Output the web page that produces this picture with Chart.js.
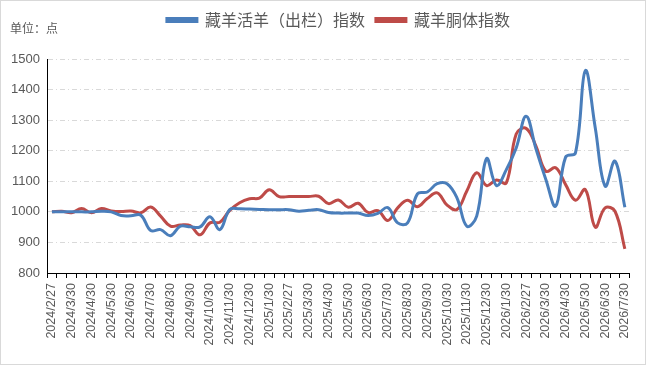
<!DOCTYPE html>
<html>
<head>
<meta charset="utf-8">
<script src="https://cdn.jsdelivr.net/npm/chart.js@4"></script>
<style>
    body { margin: 0; background: #fff; }
    #wrap { position: absolute; left: 0; top: 0; width: 644px; height: 363px; border: 1px solid #d9d9d9; }
</style>
</head>
<body>
<div id="wrap"><canvas id="indexChart" width="644" height="363"></canvas></div>
<script>
// 軸ラベル（1か月ごと）
const tickLabels = [
    '2024/2/27', '2024/3/30', '2024/4/30', '2024/5/30', '2024/6/30', '2024/7/30',
    '2024/8/30', '2024/9/30', '2024/10/30', '2024/11/30', '2024/12/30',
    '2025/1/30', '2025/2/27', '2025/3/30', '2025/4/30', '2025/5/30', '2025/6/30',
    '2025/7/30', '2025/8/30', '2025/9/30', '2025/10/30', '2025/11/30', '2025/12/30',
    '2026/1/30', '2026/2/27', '2026/3/30', '2026/4/30', '2026/5/30', '2026/6/30', '2026/7/30'
];

// 藏羊活羊（出栏）指数（半月ごと）
const liveSheep = [
    1000, 1000, 1000, 1000, 1000, 1002, 1000, 988, 987, 989,
    939, 942, 922, 953, 951, 951, 984, 942, 1008, 1010,
    1009, 1008, 1007, 1007, 1007, 1002, 1005, 1007, 998, 996,
    996, 996, 988, 995, 1014, 964, 964, 1059, 1065, 1092,
    1092, 1046, 953, 986, 1174, 1086, 1138, 1209, 1313, 1206,
    1106, 1019, 1179, 1193, 1462, 1275, 1084, 1166, 1015
];

// 藏羊胴体指数
const carcass = [
    1000, 1002, 997, 1011, 997, 1011, 1003, 1001, 1003, 997,
    1016, 986, 953, 957, 955, 925, 964, 966, 1005, 1030,
    1043, 1045, 1072, 1050, 1050, 1050, 1050, 1051, 1027, 1039,
    1015, 1028, 998, 1004, 972, 1013, 1038, 1017, 1044, 1062,
    1022, 1008, 1068, 1128, 1086, 1104, 1095, 1255, 1273, 1215,
    1133, 1144, 1089, 1038, 1073, 950, 1013, 1002, 879
];

const liveLabel = '藏羊活羊（出栏）指数';
const carcassLabel = '藏羊胴体指数';
const unitText = '单位：点';

const blueColor = '#4a7ebb';
const redColor = '#be4b48';
const textColor = '#595959';

// ラベルは2点ごと、間の点は空ラベル
const categories = [];
tickLabels.forEach((label, i) => {
    categories.push(label);
    if (i < tickLabels.length - 1) categories.push('');
});

// 単位の表示
const unitPlugin = {
    id: 'unitText',
    afterDraw(chart) {
        const ctx = chart.ctx;
        ctx.save();
        ctx.font = '12px "Noto Sans CJK SC"';
        ctx.fillStyle = textColor;
        ctx.textBaseline = 'middle';
        ctx.fillText(unitText, 9, 27);
        ctx.restore();
    }
};

// 凡例の下に余白を取る
const legendGap = {
    id: 'legendGap',
    beforeInit(chart) {
        const fit = chart.legend.fit;
        chart.legend.fit = function () {
            fit.bind(chart.legend)();
            this.height = 58;
        };
    }
};

new Chart(document.getElementById('indexChart').getContext('2d'), {
    type: 'line',
    data: {
        labels: categories,
        datasets: [{
            label: liveLabel,
            data: liveSheep,
            borderColor: blueColor,
            backgroundColor: blueColor,
            borderWidth: 3,
            pointRadius: 0,
            tension: 0.4,
            fill: false,
        }, {
            label: carcassLabel,
            data: carcass,
            borderColor: redColor,
            backgroundColor: redColor,
            borderWidth: 3,
            pointRadius: 0,
            tension: 0.4,
            fill: false,
        }]
    },
    options: {
        responsive: false,
        animation: false,
        layout: { padding: { left: 0, right: 9, top: 0, bottom: 0 } },
        plugins: {
            tooltip: { enabled: false },
            legend: {
                position: 'top',
                fullSize: false,
                labels: {
                    boxWidth: 30,
                    boxHeight: 3,
                    padding: 11,
                    color: textColor,
                    font: { family: '"Noto Sans CJK SC"', size: 16 }
                }
            }
        },
        scales: {
            x: {
                offset: true,
                grid: {
                    offset: true,
                    drawOnChartArea: false,
                    drawTicks: true,
                    tickLength: 5,
                    color: '#000'
                },
                border: { color: '#000', width: 1 },
                ticks: {
                    autoSkip: false,
                    minRotation: 90,
                    maxRotation: 90,
                    padding: 5,
                    color: textColor,
                    font: { family: '"Liberation Sans", Arial', size: 12.5 }
                },
                afterFit: (axis) => { axis.height = 91; }
            },
            y: {
                min: 800,
                max: 1500,
                ticks: {
                    stepSize: 100,
                    padding: 7,
                    color: textColor,
                    font: { family: '"Liberation Sans", Arial', size: 13 },
                    callback: (value) => String(value)
                },
                grid: { color: '#d9d9d9', drawTicks: false, lineWidth: 1 },
                border: { display: true, color: '#000', width: 1, dash: [5, 3, 1, 3] },
                afterFit: (axis) => { axis.width = 46; }
            }
        }
    },
    plugins: [unitPlugin, legendGap]
});
</script>
</body>
</html>
